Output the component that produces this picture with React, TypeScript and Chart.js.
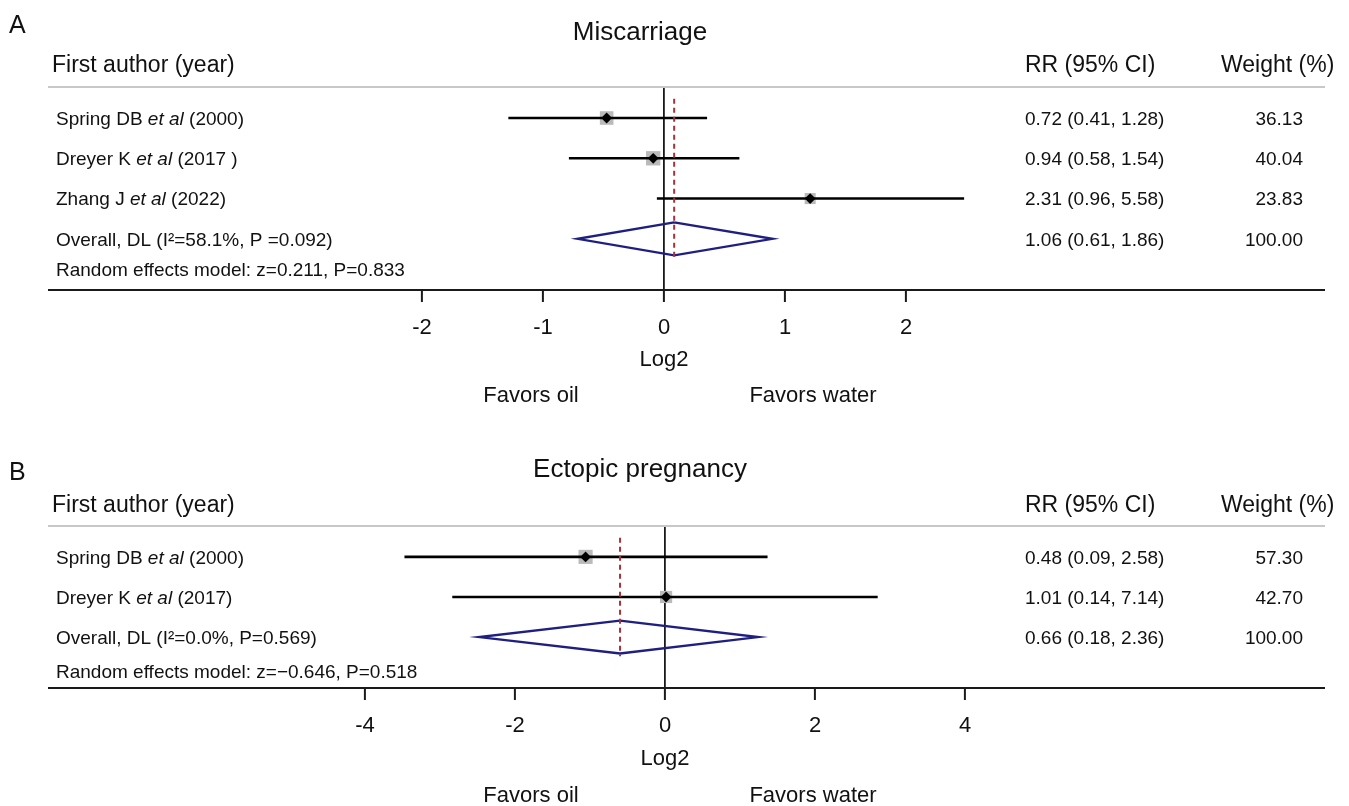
import React, { useEffect, useRef } from "react";
import { Chart, registerables } from "chart.js";

Chart.register(...registerables);

// ---------- Panel A: Miscarriage ----------
const titleA = "Miscarriage";
const authorsA = ["Spring DB", "Dreyer K", "Zhang J"];
const yearsA = ["(2000)", "(2017 )", "(2022)"];
const rrA = [0.72, 0.94, 2.31];
const lowerA = [0.41, 0.58, 0.96];
const upperA = [1.28, 1.54, 5.58];
const weightsA = [36.13, 40.04, 23.83];
const pooledA = [1.06, 0.61, 1.86]; // estimate, lower, upper
const pooledWeightA = 100.0;
const pooledLabelA = "Overall, DL (I²=58.1%, P =0.092)";
const modelLabelA = "Random effects model: z=0.211, P=0.833";
const ticksA = [-2, -1, 0, 1, 2];

// ---------- Panel B: Ectopic pregnancy ----------
const titleB = "Ectopic pregnancy";
const authorsB = ["Spring DB", "Dreyer K"];
const yearsB = ["(2000)", "(2017)"];
const rrB = [0.48, 1.01];
const lowerB = [0.09, 0.14];
const upperB = [2.58, 7.14];
const weightsB = [57.3, 42.7];
const pooledB = [0.66, 0.18, 2.36];
const pooledWeightB = 100.0;
const pooledLabelB = "Overall, DL (I²=0.0%, P=0.569)";
const modelLabelB = "Random effects model: z=−0.646, P=0.518";
const ticksB = [-4, -2, 0, 2, 4];

// ---------- shared texts ----------
const headers = ["First author (year)", "RR (95% CI)", "Weight (%)"];
const etAl = "et al";
const axisTitle = "Log2";
const favorsLabels = ["Favors oil", "Favors water"];

// ---------- layout / style (not data) ----------
const W = 1349;
const H = 403;
const FONT = "'Liberation Sans', Arial, Helvetica, sans-serif";
const INK = "#111111";

const layoutA = {
  letter: "A", letterY: 32.5, titleY: 40, headerY: 72,
  top: 87, bottom: 290, zeroX: 664, unit: 121, span: 3, axisH: 83,
  favorsY: 401.5, modelOffset: 0.76, boxScale: 1.6,
};
const layoutB = {
  letter: "B", letterY: 77, titleY: 74, headerY: 109,
  top: 123, bottom: 285, zeroX: 665, unit: 75, span: 5, axisH: 84,
  favorsY: 398.5, modelOffset: 0.86, boxScale: 1.32,
};

const panelA = {
  title: titleA, authors: authorsA, years: yearsA, rr: rrA, lower: lowerA, upper: upperA,
  weights: weightsA, pooled: pooledA, pooledWeight: pooledWeightA,
  pooledLabel: pooledLabelA, modelLabel: modelLabelA, ticks: ticksA,
};
const panelB = {
  title: titleB, authors: authorsB, years: yearsB, rr: rrB, lower: lowerB, upper: upperB,
  weights: weightsB, pooled: pooledB, pooledWeight: pooledWeightB,
  pooledLabel: pooledLabelB, modelLabel: modelLabelB, ticks: ticksB,
};

const f = (size: number, style = "") => `${style} ${size}px ${FONT}`.trim();
const ci = (e: number, l: number, u: number) => `${e.toFixed(2)} (${l.toFixed(2)}, ${u.toFixed(2)})`;

function buildConfig(p: any, L: any) {
  const n = p.rr.length;
  const pooledRow = n + 1;
  const rows = p.rr.map((_: number, i: number) => i + 1);
  const lg = Math.log2;
  const dh = 0.41; // diamond half height (row units)

  const datasets: any[] = [];
  datasets.push({
    data: p.rr.map((v: number, i: number) => ({ x: lg(v), y: rows[i] })),
    pointStyle: "rectRot", pointRadius: 5.4, pointBackgroundColor: "#000",
    pointBorderWidth: 0, showLine: false, order: 0,
  });
  const [pe, pl, pu] = p.pooled.map(lg);
  datasets.push({
    data: [{ x: pe, y: 1 - 0.48 }, { x: pe, y: pooledRow + 0.48 }],
    showLine: true, borderColor: "#a8323a", borderWidth: 2, borderDash: [5, 4],
    pointRadius: 0, order: 1,
  });
  datasets.push({
    data: [
      { x: pe, y: pooledRow - dh }, { x: pu, y: pooledRow }, { x: pe, y: pooledRow + dh },
      { x: pl, y: pooledRow }, { x: pe, y: pooledRow - dh },
    ],
    showLine: true, borderColor: "#1f1f82", borderWidth: 2.4, borderJoinStyle: "miter",
    pointRadius: 0, fill: false, order: 2,
  });
  p.lower.forEach((v: number, i: number) => {
    datasets.push({
      data: [{ x: lg(v), y: rows[i] }, { x: lg(p.upper[i]), y: rows[i] }],
      showLine: true, borderColor: "#000", borderWidth: 2.6, pointRadius: 0, order: 3,
    });
  });
  datasets.push({
    data: p.rr.map((v: number, i: number) => ({ x: lg(v), y: rows[i] })),
    pointStyle: "rect", pointRadius: p.weights.map((w: number) => Math.sqrt(w) * L.boxScale),
    pointBackgroundColor: "#bababa", pointBorderWidth: 0, showLine: false, order: 4,
  });

  const textPlugin = {
    id: "forestText",
    afterDraw(chart: any) {
      const ctx = chart.ctx;
      const ys = chart.scales.y;
      const area = chart.chartArea;
      ctx.save();
      ctx.fillStyle = INK;
      ctx.textBaseline = "alphabetic";

      ctx.font = f(25);
      ctx.textAlign = "left";
      ctx.fillText(L.letter, 9, L.letterY);

      ctx.font = f(26);
      ctx.textAlign = "center";
      ctx.fillText(p.title, 640, L.titleY);

      ctx.font = f(23);
      ctx.textAlign = "left";
      ctx.fillText(headers[0], 52, L.headerY);
      ctx.fillText(headers[1], 1025, L.headerY);
      ctx.fillText(headers[2], 1221, L.headerY);

      // header rule and bottom axis rule
      ctx.lineWidth = 2;
      ctx.strokeStyle = "#c8c8c8";
      ctx.beginPath();
      ctx.moveTo(48, area.top);
      ctx.lineTo(1325, area.top);
      ctx.stroke();
      ctx.lineWidth = 2.2;
      ctx.strokeStyle = "#1a1a1a";
      ctx.beginPath();
      ctx.moveTo(48, area.bottom);
      ctx.lineTo(1325, area.bottom);
      ctx.stroke();

      const rowFont = 19;
      const off = 6.8;
      for (let i = 0; i < n; i++) {
        const y = ys.getPixelForValue(rows[i]) + off;
        let x = 56;
        ctx.textAlign = "left";
        ctx.font = f(rowFont);
        const a = p.authors[i] + " ";
        ctx.fillText(a, x, y);
        x += ctx.measureText(a).width;
        ctx.font = f(rowFont, "italic");
        ctx.fillText(etAl, x, y);
        x += ctx.measureText(etAl).width;
        ctx.font = f(rowFont);
        ctx.fillText(" " + p.years[i], x, y);
        ctx.fillText(ci(p.rr[i], p.lower[i], p.upper[i]), 1025, y);
        ctx.textAlign = "right";
        ctx.fillText(p.weights[i].toFixed(2), 1303, y);
      }
      const py = ys.getPixelForValue(pooledRow) + off;
      ctx.font = f(rowFont);
      ctx.textAlign = "left";
      ctx.fillText(p.pooledLabel, 56, py);
      ctx.fillText(ci(p.pooled[0], p.pooled[1], p.pooled[2]), 1025, py);
      ctx.textAlign = "right";
      ctx.fillText(p.pooledWeight.toFixed(2), 1303, py);
      ctx.textAlign = "left";
      ctx.fillText(p.modelLabel, 56, ys.getPixelForValue(pooledRow + L.modelOffset) + off);

      ctx.font = f(22);
      ctx.textAlign = "center";
      ctx.fillText(favorsLabels[0], 531, L.favorsY);
      ctx.fillText(favorsLabels[1], 813, L.favorsY);
      ctx.restore();
    },
  };

  return {
    type: "scatter",
    data: { datasets },
    plugins: [textPlugin],
    options: {
      animation: false,
      responsive: false,
      events: [],
      layout: {
        padding: {
          left: L.zeroX - L.span * L.unit,
          right: W - (L.zeroX + L.span * L.unit),
          top: L.top,
          bottom: H - L.bottom - L.axisH,
        },
      },
      plugins: { legend: { display: false }, tooltip: { enabled: false }, title: { display: false } },
      scales: {
        x: {
          type: "linear",
          min: -L.span,
          max: L.span,
          afterBuildTicks: (s: any) => {
            s.ticks = p.ticks.map((v: number) => ({ value: v }));
          },
          afterFit: (s: any) => {
            s.height = L.axisH;
          },
          border: { display: false },
          grid: {
            drawOnChartArea: true,
            color: (c: any) => (c.tick && c.tick.value === 0 ? "#1a1a1a" : "rgba(0,0,0,0)"),
            lineWidth: 1.8,
            tickColor: "#1a1a1a",
            tickWidth: 2,
            tickLength: 12,
          },
          ticks: {
            color: INK,
            font: { size: 22, family: FONT },
            padding: 13,
            maxRotation: 0,
            autoSkip: false,
            callback: (v: any) => String(v),
          },
          title: {
            display: true,
            text: axisTitle,
            color: INK,
            font: { size: 22, family: FONT },
            padding: 0,
          },
        },
        y: { type: "linear", display: false, min: 0.23, max: n + 2.27, reverse: true },
      },
    },
  };
}

function ForestPanel({ panel, layout }: { panel: any; layout: any }) {
  const ref = useRef<HTMLCanvasElement | null>(null);
  useEffect(() => {
    if (!ref.current) return;
    const chart = new Chart(ref.current, buildConfig(panel, layout) as any);
    return () => chart.destroy();
  }, [panel, layout]);
  return <canvas ref={ref} width={W} height={H} style={{ display: "block", width: W, height: H }} />;
}

export default function App() {
  useEffect(() => {
    document.body.style.margin = "0";
  }, []);
  Chart.defaults.font.family = FONT;
  return (
    <div style={{ position: "absolute", left: 0, top: 0, width: W, height: 806, background: "#fff" }}>
      <ForestPanel panel={panelA} layout={layoutA} />
      <ForestPanel panel={panelB} layout={layoutB} />
    </div>
  );
}
